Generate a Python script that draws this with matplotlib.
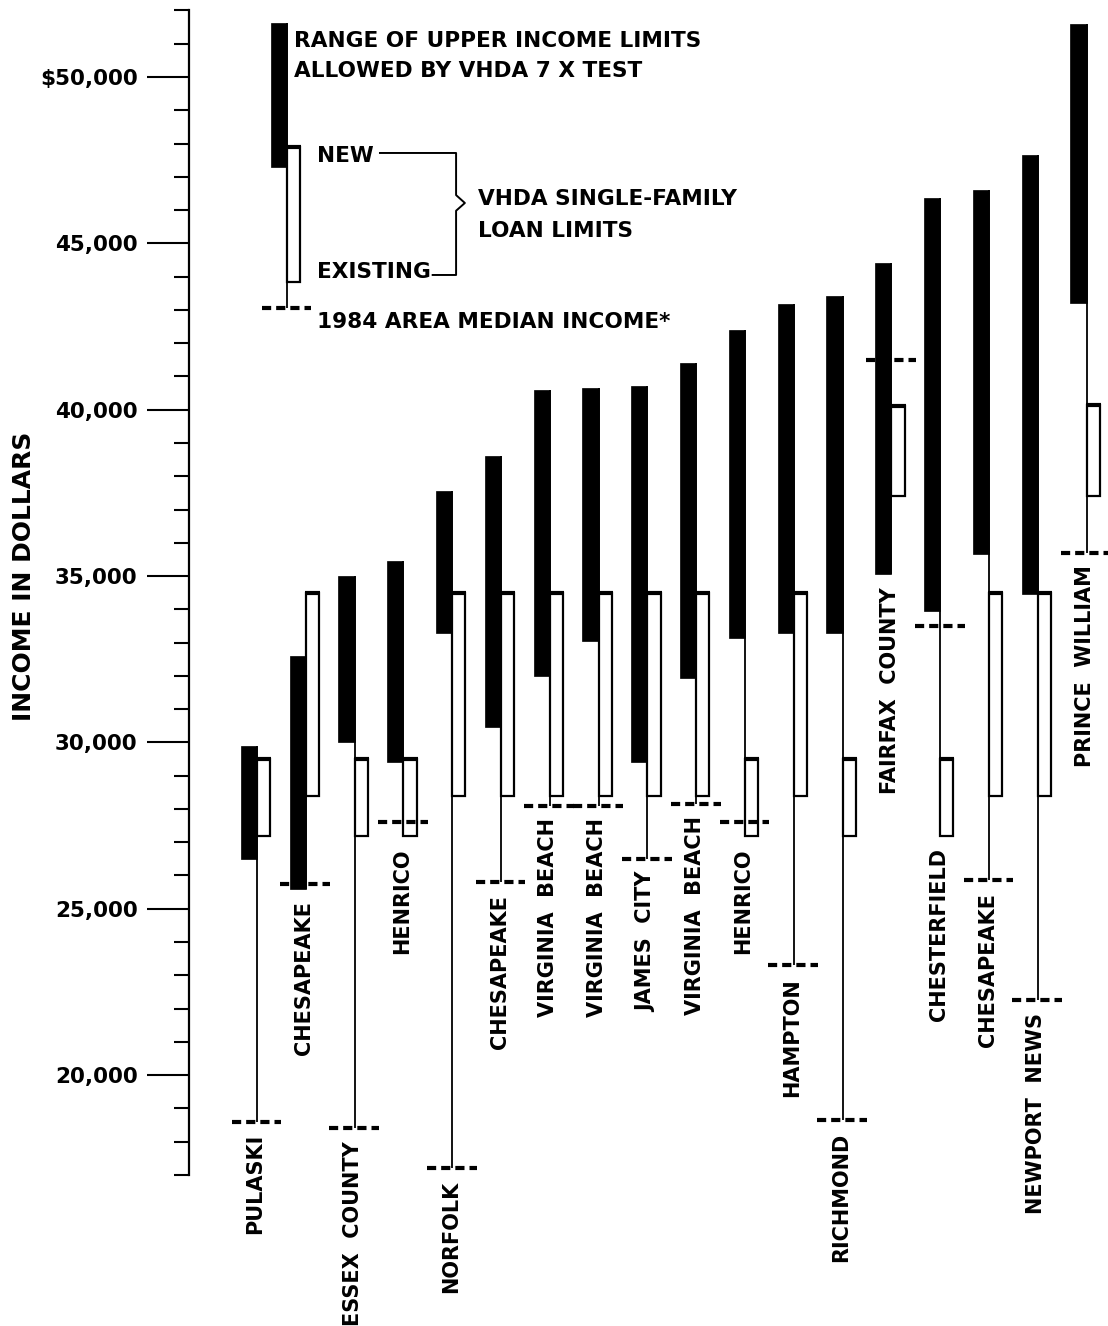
import matplotlib
matplotlib.use('Agg')
import matplotlib.pyplot as plt

# areas, in the order they appear from left to right
areas = ['PULASKI', 'CHESAPEAKE', 'ESSEX  COUNTY', 'HENRICO', 'NORFOLK',
         'CHESAPEAKE', 'VIRGINIA  BEACH', 'VIRGINIA  BEACH', 'JAMES  CITY',
         'VIRGINIA  BEACH', 'HENRICO', 'HAMPTON', 'RICHMOND', 'FAIRFAX  COUNTY',
         'CHESTERFIELD', 'CHESAPEAKE', 'NEWPORT  NEWS', 'PRINCE  WILLIAM']

# range of upper income limits allowed by the VHDA 7 x test (black bars)
range_low = [26500, 25600, 30000, 29400, 33300, 30450, 32000, 33050, 29400,
             31950, 33150, 33300, 33300, 35050, 33950, 35650, 34450, 43200]
range_high = [29900, 32600, 35000, 35450, 37550, 38600, 40600, 40650, 40700,
              41400, 42400, 43180, 43420, 44400, 46370, 46600, 47660, 51600]

# VHDA single-family loan limits (white bars)
loan_new = [29500, 34500, 29500, 29500, 34500, 34500, 34500, 34500, 34500,
            34500, 29500, 34500, 29500, 40100, 29500, 34500, 34500, 40150]
loan_existing = [27200, 28400, 27200, 27200, 28400, 28400, 28400, 28400, 28400,
                 28400, 27200, 28400, 27200, 37400, 27200, 28400, 28400, 37400]

# 1984 area median income (dashed marks)
median_income = [18600, 25750, 18400, 27600, 17200, 25800, 28100, 28100, 26500,
                 28150, 27600, 23300, 18650, 41500, 33500, 25850, 22250, 35700]

# sample values used in the key
key_range = [47300, 51620]
key_loan = [43850, 47900]
key_median = 43050

y_major = [20000, 25000, 30000, 35000, 40000, 45000, 50000]
y_major_labels = ['20,000', '25,000', '30,000', '35,000', '40,000', '45,000', '$50,000']

plt.rcParams['font.family'] = ['DejaVu Sans']
plt.rcParams['font.weight'] = 'bold'

fig = plt.figure(figsize=(11.08, 13.26), dpi=100)
ax = fig.add_axes([0, 0, 1, 1])
ax.set_xlim(-5.266, 17.439)
ax.set_ylim(12459, 52314)

BW = 0.33   # black bar width
WW = 0.27   # white bar width
DASH = (0, (2.2, 1.2))


def draw_item(x, lo, hi, new, old, med):
    bottom = min(lo, old, med)
    top = max(hi, new, med)
    ax.vlines(x, bottom, top, color='black', lw=1.3, zorder=1)
    ax.bar(x - BW, hi - lo, width=BW, bottom=lo, align='edge',
           color='black', edgecolor='black', lw=0.5, zorder=3)
    ax.bar(x, new - old, width=WW, bottom=old, align='edge',
           facecolor='white', edgecolor='black', lw=1.6, zorder=2)
    # heavier cap on top of the loan bar
    ax.hlines(new, x - 0.02, x + WW + 0.02, color='black', lw=3, zorder=2)
    ax.plot([x - 0.52, x + 0.5], [med, med], color='black', lw=3,
            linestyle=DASH, zorder=4, solid_capstyle='butt')
    return bottom


for i, name in enumerate(areas):
    low_point = draw_item(i, range_low[i], range_high[i], loan_new[i],
                          loan_existing[i], median_income[i])
    ax.annotate(name, (i, low_point), xytext=(-1, -9), textcoords='offset points',
                rotation=90, ha='center', va='top', fontsize=15, fontweight='bold')

# key in the upper left
kx = 0.615
fs_key = 15.6
draw_item(kx, key_range[0], key_range[1], key_loan[1], key_loan[0], key_median)
ax.text(0.76, 50900, 'RANGE OF UPPER INCOME LIMITS', fontsize=fs_key, va='baseline')
ax.text(0.76, 50000, 'ALLOWED BY VHDA 7 X TEST', fontsize=fs_key, va='baseline')
ax.text(1.23, 47445, 'NEW', fontsize=fs_key, va='baseline')
ax.text(1.23, 43960, 'EXISTING', fontsize=fs_key, va='baseline')
ax.text(4.53, 46153, 'VHDA SINGLE-FAMILY', fontsize=fs_key, va='baseline')
ax.text(4.53, 45190, 'LOAN LIMITS', fontsize=fs_key, va='baseline')
ax.text(1.23, 42456, '1984 AREA MEDIAN INCOME*', fontsize=fs_key, va='baseline')
# bracket joining NEW and EXISTING
ax.plot([2.52, 4.08, 4.08, 4.26, 4.08, 4.08, 3.6],
        [47716, 47716, 46450, 46213, 45980, 44049, 44049],
        color='black', lw=1.4)

# y axis drawn as a free-standing spine
ax.spines['left'].set_position(('data', -1.393))
ax.spines['left'].set_bounds(17000, 52000)
ax.spines['left'].set_linewidth(1.6)
for s in ['right', 'top', 'bottom']:
    ax.spines[s].set_visible(False)
ax.set_xticks([])
ax.set_yticks(y_major)
ax.set_yticklabels(y_major_labels, fontsize=15.5, fontweight='bold')
ax.set_yticks([v for v in range(17000, 52001, 1000) if v % 5000 != 0], minor=True)
ax.tick_params(axis='y', which='major', length=30, width=1.5, pad=7, direction='out')
ax.tick_params(axis='y', which='minor', length=11, width=1.5, direction='out')
ax.patch.set_visible(False)

ax.text(-4.775, 35000, 'INCOME IN DOLLARS', rotation=90, ha='center', va='center',
        fontsize=18, fontweight='bold')

fig.savefig('out.png', dpi=100, facecolor='white')
